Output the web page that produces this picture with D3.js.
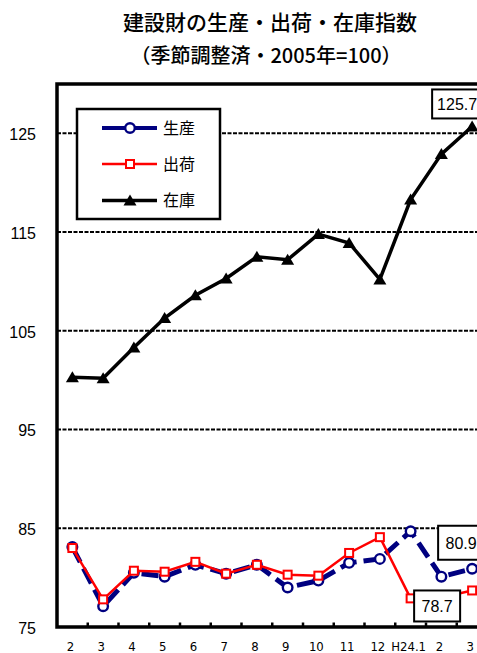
<!DOCTYPE html>
<html>
<head>
<meta charset="utf-8">
<script src="https://cdn.jsdelivr.net/npm/d3@7"></script>
<style>
  html, body { margin: 0; padding: 0; background: #fff; overflow: hidden; }
  svg { display: block; }
</style>
</head>
<body>
<svg id="chart" width="477" height="653"></svg>
<script>
// Monthly categories (H23.2 – H24.3)
const months = ["2", "3", "4", "5", "6", "7", "8", "9", "10", "11", "12", "H24.1", "2", "3"];
// 生産 (production index)
const production = [83.1, 77.1, 80.5, 80.1, 81.3, 80.4, 81.3, 79.0, 79.7, 81.5, 81.9, 84.7, 80.1, 80.9];
// 出荷 (shipments index)
const shipments = [83.0, 77.8, 80.7, 80.6, 81.6, 80.4, 81.3, 80.3, 80.2, 82.5, 84.1, 77.9, 78.0, 78.7];
// 在庫 (inventory index)
const inventory = [100.3, 100.2, 103.3, 106.3, 108.6, 110.3, 112.5, 112.2, 114.8, 113.9, 110.2, 118.3, 122.9, 125.7];
const yTicks = [75, 85, 95, 105, 115, 125];
const gridValues = [85, 95, 105, 115, 125];
const seriesNames = ["生産", "出荷", "在庫"];
const titleLines = ["建設財の生産・出荷・在庫指数", "（季節調整済・2005年=100）"];

const svg = d3.select("#chart");
const plot = { left: 57, top: 84, right: 487.5, bottom: 627 };

const x = d3.scaleBand()
  .domain(d3.range(months.length))
  .range([plot.left, plot.right])
  .padding(0);
const cx = i => x(i) + x.bandwidth() / 2;
const y = d3.scaleLinear().domain([75, 130]).range([plot.bottom, plot.top]);

const latin = "'Liberation Sans', Arial, sans-serif";
const cjk = "'Noto Sans CJK JP', sans-serif";

// Title
svg.append("text")
  .attr("x", 270).attr("y", 30)
  .attr("text-anchor", "middle")
  .attr("font-family", cjk).attr("font-size", 21).attr("font-weight", 500)
  .text(titleLines[0]);
svg.append("text")
  .attr("x", 266).attr("y", 63)
  .attr("text-anchor", "middle")
  .attr("font-family", cjk).attr("font-size", 20).attr("font-weight", 500)
  .text(titleLines[1]);

// Dashed horizontal gridlines
svg.append("g")
  .selectAll("line")
  .data(gridValues)
  .join("line")
  .attr("x1", plot.left).attr("x2", plot.right)
  .attr("y1", d => y(d)).attr("y2", d => y(d))
  .attr("stroke", "#000").attr("stroke-width", 2)
  .attr("stroke-dasharray", "4,1.5");

// Plot frame: top border, left axis, bottom axis
svg.append("path")
  .attr("d", `M${plot.right},${plot.top}H${plot.left}V${plot.bottom}H${plot.right}`)
  .attr("fill", "none").attr("stroke", "#000").attr("stroke-width", 3.5)
  .attr("stroke-linejoin", "miter");

// X tick marks between categories (pointing up into the plot)
svg.append("g")
  .selectAll("line")
  .data(d3.range(1, months.length))
  .join("line")
  .attr("x1", i => x(i)).attr("x2", i => x(i))
  .attr("y1", plot.bottom).attr("y2", plot.bottom - 4.5)
  .attr("stroke", "#000").attr("stroke-width", 2.5);

// X labels
svg.append("g")
  .selectAll("text")
  .data(months)
  .join("text")
  .attr("x", (d, i) => cx(i) - 2)
  .attr("y", 650.5)
  .attr("text-anchor", "middle")
  .attr("font-family", "'Liberation Sans Narrow', 'Arial Narrow', 'DejaVu Sans Condensed', sans-serif")
  .attr("font-size", 13)
  .text(d => d);

// Y labels
svg.append("g")
  .selectAll("text")
  .data(yTicks)
  .join("text")
  .attr("x", 36)
  .attr("y", d => y(d))
  .attr("dy", "0.42em")
  .attr("text-anchor", "end")
  .attr("font-family", latin)
  .attr("font-size", 16)
  .text(d => d);

const line = d3.line().x((d, i) => cx(i)).y(d => y(d));

// 生産: navy dashed line with open circles
svg.append("path")
  .datum(production)
  .attr("d", line)
  .attr("fill", "none").attr("stroke", "#000080")
  .attr("stroke-width", 5).attr("stroke-dasharray", "17,7");
svg.append("g")
  .selectAll("circle")
  .data(production)
  .join("circle")
  .attr("cx", (d, i) => cx(i)).attr("cy", d => y(d))
  .attr("r", 4.8)
  .attr("fill", "#fff").attr("stroke", "#000080").attr("stroke-width", 2.4);

// 出荷: red line with open squares
svg.append("path")
  .datum(shipments)
  .attr("d", line)
  .attr("fill", "none").attr("stroke", "#ff0000").attr("stroke-width", 2.5);
svg.append("g")
  .selectAll("rect")
  .data(shipments)
  .join("rect")
  .attr("x", (d, i) => cx(i) - 4).attr("y", d => y(d) - 4)
  .attr("width", 8).attr("height", 8)
  .attr("fill", "#fff").attr("stroke", "#ff0000").attr("stroke-width", 2);

// 在庫: black line with filled triangles
const tri = "M0,-6L6.5,5L-6.5,5Z";
svg.append("path")
  .datum(inventory)
  .attr("d", line)
  .attr("fill", "none").attr("stroke", "#000").attr("stroke-width", 3.5);
svg.append("g")
  .selectAll("path")
  .data(inventory)
  .join("path")
  .attr("transform", (d, i) => `translate(${cx(i)},${y(d)})`)
  .attr("d", tri)
  .attr("fill", "#000");

// Value callouts for the latest month
const last = months.length - 1;
function callout(value, dx, dyTop, w, h) {
  const px = cx(last), py = y(value);
  const g = svg.append("g");
  g.append("rect")
    .attr("x", px + dx - w / 2).attr("y", py + dyTop)
    .attr("width", w).attr("height", h)
    .attr("fill", "#fff").attr("stroke", "#000").attr("stroke-width", 2);
  g.append("text")
    .attr("x", px + dx).attr("y", py + dyTop + h / 2)
    .attr("dy", "0.36em")
    .attr("text-anchor", "middle")
    .attr("font-family", latin).attr("font-size", 16)
    .text(value.toFixed(1));
}
callout(inventory[last], -15, -37, 50, 29);
callout(production[last], -11, -43, 46, 34);
callout(shipments[last], -35, 0, 46, 31);

// Legend
const lg = svg.append("g");
lg.append("rect")
  .attr("x", 77).attr("y", 109).attr("width", 143).attr("height", 110)
  .attr("fill", "#fff").attr("stroke", "#000").attr("stroke-width", 2.5);
const rows = [128, 164, 200.5];
const legColors = ["#000080", "#ff0000", "#000"];
const legWidths = [4, 2.5, 3.5];
rows.forEach((ry, k) => {
  lg.append("line")
    .attr("x1", 102).attr("x2", 157).attr("y1", ry).attr("y2", ry)
    .attr("stroke", legColors[k]).attr("stroke-width", legWidths[k]);
  if (k === 0) {
    lg.append("circle").attr("cx", 130).attr("cy", ry).attr("r", 4.8)
      .attr("fill", "#fff").attr("stroke", "#000080").attr("stroke-width", 2.4);
  } else if (k === 1) {
    lg.append("rect").attr("x", 126).attr("y", ry - 4).attr("width", 8).attr("height", 8)
      .attr("fill", "#fff").attr("stroke", "#ff0000").attr("stroke-width", 2);
  } else {
    lg.append("path").attr("transform", `translate(130,${ry})`).attr("d", tri).attr("fill", "#000");
  }
  lg.append("text")
    .attr("x", 163).attr("y", ry)
    .attr("dy", "0.36em")
    .attr("font-family", cjk).attr("font-size", 16)
    .text(seriesNames[k]);
});
</script>
</body>
</html>
